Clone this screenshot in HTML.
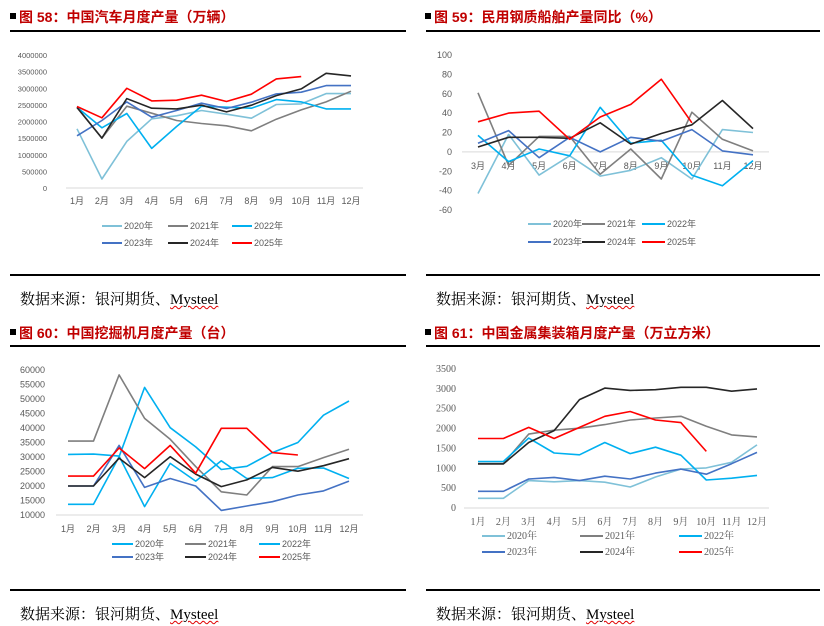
<!DOCTYPE html>
<html><head><meta charset="utf-8">
<style>
body{margin:0;width:824px;height:626px;background:#fff;position:relative;overflow:hidden;font-family:"Liberation Sans","Noto Sans CJK SC",sans-serif;}
.title{position:absolute;font-weight:bold;font-size:14px;color:#c00000;white-space:nowrap;line-height:18px;}
.title .sq{display:inline-block;width:6px;height:6px;background:#000;margin-right:3px;vertical-align:middle;position:relative;top:-2px;}
.rule{position:absolute;height:1.5px;background:#000;}
.src{position:absolute;font-family:"Liberation Serif","Noto Serif CJK SC",serif;font-size:15px;color:#000;white-space:nowrap;}
.src u{text-decoration:underline wavy #e00000;text-decoration-thickness:1px;}
svg{position:absolute;left:0;top:0;}
svg text{font-family:"Liberation Sans","Noto Sans CJK SC",sans-serif;font-size:9px;fill:#595959;}
</style></head><body>
<div class="title" style="left:10px;top:8px"><span class="sq"></span>图 58：中国汽车月度产量（万辆）</div>
<div class="title" style="left:425px;top:8px"><span class="sq"></span>图 59：民用钢质船舶产量同比（%）</div>
<div class="title" style="left:10px;top:324px"><span class="sq"></span>图 60：中国挖掘机月度产量（台）</div>
<div class="title" style="left:425px;top:324px"><span class="sq"></span>图 61：中国金属集装箱月度产量（万立方米）</div>
<div class="rule" style="left:10px;top:30px;width:396px"></div>
<div class="rule" style="left:426px;top:30px;width:394px"></div>
<div class="rule" style="left:10px;top:274px;width:396px"></div>
<div class="rule" style="left:426px;top:274px;width:394px"></div>
<div class="rule" style="left:10px;top:345px;width:396px"></div>
<div class="rule" style="left:426px;top:345px;width:394px"></div>
<div class="rule" style="left:10px;top:589px;width:396px"></div>
<div class="rule" style="left:426px;top:589px;width:394px"></div>
<div class="src" style="left:20px;top:288px">数据来源：银河期货、<u>Mysteel</u></div>
<div class="src" style="left:436px;top:288px">数据来源：银河期货、<u>Mysteel</u></div>
<div class="src" style="left:20px;top:603px">数据来源：银河期货、<u>Mysteel</u></div>
<div class="src" style="left:436px;top:603px">数据来源：银河期货、<u>Mysteel</u></div>
<svg id="svg" width="824" height="626"></svg>
<script>
const years=["2020年","2021年","2022年","2023年","2024年","2025年"];
const months12=["1月","2月","3月","4月","5月","6月","7月","8月","9月","10月","11月","12月"];
const months10=["3月","4月","5月","6月","7月","8月","9月","10月","11月","12月"];
// Chart 58 (units: 1e6 vehicles -> scaled x1e6)
const car2020=[1.78,0.27,1.40,2.08,2.17,2.33,2.22,2.10,2.51,2.53,2.84,2.84];
const car2021=[2.43,1.50,2.46,2.25,2.03,1.94,1.87,1.72,2.07,2.35,2.59,2.91];
const car2022=[2.43,1.81,2.24,1.19,1.85,2.46,2.43,2.40,2.66,2.59,2.38,2.38];
const car2023=[1.57,2.03,2.59,2.13,2.33,2.55,2.39,2.58,2.83,2.88,3.08,3.08];
const car2024=[2.42,1.50,2.69,2.40,2.38,2.49,2.29,2.49,2.78,2.98,3.45,3.37];
const car2025=[2.45,2.11,3.00,2.62,2.64,2.79,2.60,2.82,3.28,3.35];
const carTicks=["0","500000","1000000","1500000","2000000","2500000","3000000","3500000","4000000"];
// Chart 59
const ship2020=[-43,18,-24,-4,-25,-19,-6,-28,23,20];
const ship2021=[61,-14,16,16,-23,3,-28,41,13,1];
const ship2022=[17,-10,3,-4,46,9,12,-24,-35,-9];
const ship2023=[9,22,-6,15,0,15,11,23,1,-3];
const ship2024=[5,15,15,14,30,8,19,28,53,24];
const ship2025=[31,40,42,13,36,49,75,30];
const shipTicks=["-60","-40","-20","0","20","40","60","80","100"];
// Chart 60
const exc2020=[13700,13700,30100,54000,40100,33500,25700,26800,31500,35000,44400,49300];
const exc2021=[35500,35500,58300,43300,36100,26700,18000,16900,26700,26700,29800,32700];
const exc2022=[30900,31000,30300,12900,27800,21700,28700,22600,22900,26100,26200,22600];
const exc2023=[20000,20000,34000,19500,22600,20000,11600,13100,14600,16900,18300,21700];
const exc2024=[20000,20000,29600,22900,30100,24100,19800,22100,26400,25100,27000,29400];
const exc2025=[23400,23400,33100,26000,34000,24400,39900,39900,31500,30700];
const excTicks=["10000","15000","20000","25000","30000","35000","40000","45000","50000","55000","60000"];
// Chart 61
const box2020=[243,243,690,660,690,650,530,780,980,1010,1150,1590];
const box2021=[1120,1120,1860,1960,2010,2100,2215,2265,2310,2060,1840,1790];
const box2022=[1170,1170,1760,1385,1340,1650,1370,1530,1330,705,750,820];
const box2023=[420,420,730,770,690,800,730,880,980,850,1115,1400];
const box2024=[1110,1110,1650,1950,2730,3020,2960,2980,3040,3040,2940,3000];
const box2025=[1750,1750,2030,1750,2030,2310,2430,2215,2150,1425];
const boxTicks=["0","500","1000","1500","2000","2500","3000","3500"];

const NS="http://www.w3.org/2000/svg";
const svg=document.getElementById('svg');
function mk(tag,attrs,parent){const e=document.createElementNS(NS,tag);for(const k in attrs)e.setAttribute(k,attrs[k]);(parent||svg).appendChild(e);return e;}

function chart(c){
  const g=mk('g',{});
  
  
  const vmin=+c.ticks[0],vmax=+c.ticks[c.ticks.length-1];
  const y=v=>c.y0+(c.y1-c.y0)*(v-vmin)/(vmax-vmin);
  const n=c.cats.length;
  const x=i=>c.x0+(c.x1-c.x0)*i/(n-1);
  const zy=y(c.zero);
  const ax=mk('line',{x1:c.ax0,x2:c.ax1,y1:zy,y2:zy,stroke:'#d9d9d9','stroke-width':1},g);
  
  
  c.ticks.forEach(t=>{
    const tx=mk('text',{x:c.tickX,y:y(+t)+3,'text-anchor':'end'},g);
    
    
    if(c.serif)tx.setAttribute('style','font-family:"Liberation Serif",serif;font-size:10px');
    if(c.tickFont)tx.setAttribute('style','font-size:'+c.tickFont+'px');
    tx.textContent=t;
  });
  c.cats.forEach((m,i)=>{
    const tx=mk('text',{x:x(i),y:c.labelY,'text-anchor':'middle'},g);
    
    
    if(c.serif)tx.setAttribute('style','font-family:"Liberation Serif","Noto Serif CJK SC",serif;font-size:10px');
    tx.textContent=m;
  });
  c.series.forEach((s,k)=>{
    const pts=s.map((v,i)=>x(i).toFixed(1)+','+y(v*c.mult).toFixed(1)).join(' ');
    const pl=mk('polyline',{points:pts,fill:'none',stroke:c.colors[k],'stroke-width':1.6,'stroke-linejoin':'round'},g);
    
    
  });
  years.forEach((yr,k)=>{
    const col=k%3,row=Math.floor(k/3);
    const lx=c.legX[col],ly=c.legY[row];
    const lg=mk('g',{},g);
    
    
    mk('line',{x1:lx,x2:lx+c.legW,y1:ly,y2:ly,stroke:c.colors[k],'stroke-width':2},lg);
    const t=mk('text',{x:lx+c.legW+2,y:ly+3},lg);
    if(c.serif)t.setAttribute('style','font-family:"Liberation Serif","Noto Serif CJK SC",serif;font-size:10px');
    t.textContent=yr;
  });
}
chart({name:'car-production-chart',cats:months12,ticks:carTicks,mult:1e6,zero:0,tickFont:7.5,
  series:[car2020,car2021,car2022,car2023,car2024,car2025],
  colors:['#7fc1d8','#7f7f7f','#00b0f0','#4472c4','#262626','#ff0000'],
  x0:77,x1:351,y0:188,y1:55,ax0:66,ax1:363,tickX:47,labelY:204,legX:[102,168,232],legY:[226,243],legW:20});
chart({name:'ship-production-yoy-chart',cats:months10,ticks:shipTicks,mult:1,zero:0,
  series:[ship2020,ship2021,ship2022,ship2023,ship2024,ship2025],
  colors:['#7fc1d8','#7f7f7f','#00b0f0','#4472c4','#262626','#ff0000'],
  x0:478,x1:753,y0:210,y1:55,ax0:462,ax1:769,tickX:452,labelY:169,legX:[528,582,642],legY:[224,242],legW:23});
chart({name:'excavator-production-chart',cats:months12,ticks:excTicks,mult:1,zero:10000,
  series:[exc2020,exc2021,exc2022,exc2023,exc2024,exc2025],
  colors:['#00b0f0','#7f7f7f','#00b0f0','#4472c4','#262626','#ff0000'],
  x0:68,x1:349,y0:515,y1:370,ax0:56,ax1:363,tickX:45,labelY:532,legX:[112,185,259],legY:[544,557],legW:21});
chart({name:'container-production-chart',cats:months12,ticks:boxTicks,mult:1,zero:0,serif:true,
  series:[box2020,box2021,box2022,box2023,box2024,box2025],
  colors:['#7fc1d8','#7f7f7f','#00b0f0','#4472c4','#262626','#ff0000'],
  x0:478,x1:757,y0:508,y1:369,ax0:464,ax1:769,tickX:456,labelY:525,legX:[482,580,679],legY:[536,552],legW:23});
</script>
</body></html>
